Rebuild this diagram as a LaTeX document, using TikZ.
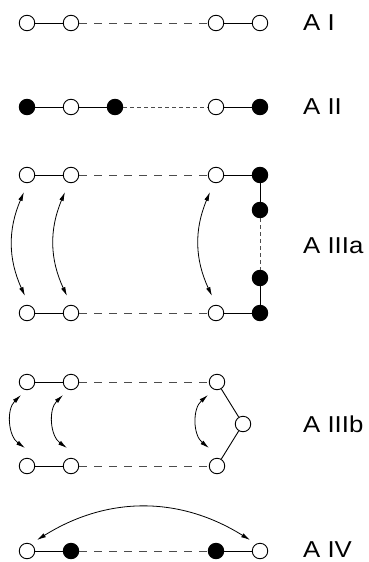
\documentclass[tikz,border=0pt]{standalone}
\usepackage{fontspec}
\setmainfont{Liberation Sans}
\newfontfamily\labfont[FakeStretch=1.12]{Liberation Sans}
\usetikzlibrary{arrows.meta}
\begin{document}
\begin{tikzpicture}[x=1pt,y=-1pt,
  vtx/.style={circle,draw,line width=0.9pt,inner sep=0pt,minimum size=15.5pt},
  opn/.style={vtx,fill=white},
  full/.style={vtx,fill=black},
  sol/.style={line width=0.9pt},
  dsh/.style={line width=0.9pt,draw=black!70,dash pattern=on 8pt off 7pt},
  dot/.style={line width=0.9pt,draw=black!70,dash pattern=on 3.5pt off 3.5pt},
  dbl/.style={line width=0.8pt,{Latex[length=9pt,width=4.5pt]}-{Latex[length=9pt,width=4.5pt]}},
  lab/.style={anchor=west,inner sep=0pt,font=\labfont\fontsize{23}{26}\selectfont}]
\useasboundingbox (0,0) rectangle (368,562);
% A I
\node[opn] (a1) at (27,23) {};
\node[opn] (a2) at (71,23) {};
\node[opn] (a3) at (216,23) {};
\node[opn] (a4) at (260,23) {};
\draw[sol] (a1) -- (a2);
\draw[dsh] (a2) -- (a3);
\draw[sol] (a3) -- (a4);
\node[lab] (lA) at (303,23) {A I};
% A II
\node[full] (b1) at (27,107) {};
\node[opn] (b2) at (71,107) {};
\node[full] (b3) at (115,107) {};
\node[opn] (b4) at (216,107) {};
\node[full] (b5) at (260,107) {};
\draw[sol] (b1) -- (b2);
\draw[sol] (b2) -- (b3);
\draw[dot] (b3) -- (b4);
\draw[sol] (b4) -- (b5);
\node[lab] (lB) at (303,107) {A II};
% A IIIa
\node[opn] (c1) at (27,175) {};
\node[opn] (c2) at (71,175) {};
\node[opn] (c3) at (216,175) {};
\node[full] (c4) at (260,175) {};
\node[full] (c5) at (260,210) {};
\node[full] (c6) at (260,278) {};
\node[full] (c7) at (260,313) {};
\node[opn] (d1) at (27,313) {};
\node[opn] (d2) at (71,313) {};
\node[opn] (d3) at (216,313) {};
\draw[sol] (c1) -- (c2);
\draw[dsh] (c2) -- (c3);
\draw[sol] (c3) -- (c4);
\draw[sol] (c4) -- (c5);
\draw[dot] (c5) -- (c6);
\draw[sol] (c6) -- (c7);
\draw[sol] (d1) -- (d2);
\draw[dsh] (d2) -- (d3);
\draw[sol] (d3) -- (c7);
\coordinate (p1t) at (24,192); \coordinate (p1b) at (25,296);
\coordinate (p2t) at (65,192); \coordinate (p2b) at (67,296);
\coordinate (p3t) at (210,192); \coordinate (p3b) at (212,296);
\draw[dbl] (p1t) to[bend right=24] (p1b);
\draw[dbl] (p2t) to[bend right=24] (p2b);
\draw[dbl] (p3t) to[bend right=24] (p3b);
\node[lab] (lC) at (303,246) {A IIIa};
% A IIIb
\node[opn] (e1) at (27,382) {};
\node[opn] (e2) at (71,382) {};
\node[opn] (e3) at (217,382) {};
\node[opn] (e4) at (243,424) {};
\node[opn] (f1) at (27,466) {};
\node[opn] (f2) at (71,466) {};
\node[opn] (f3) at (217,466) {};
\draw[sol] (e1) -- (e2);
\draw[dsh] (e2) -- (e3);
\draw[sol] (e3) -- (e4);
\draw[sol] (e4) -- (f3);
\draw[sol] (f1) -- (f2);
\draw[dsh] (f2) -- (f3);
\coordinate (q1t) at (21,395); \coordinate (q1b) at (25,448);
\coordinate (q2t) at (63,395); \coordinate (q2b) at (67,448);
\coordinate (q3t) at (208,395); \coordinate (q3b) at (209,448);
\draw[dbl] (q1t) to[bend right=50] (q1b);
\draw[dbl] (q2t) to[bend right=50] (q2b);
\draw[dbl] (q3t) to[bend right=50] (q3b);
\node[lab] (lD) at (303,424) {A IIIb};
% A IV
\node[opn] (g1) at (27,551) {};
\node[full] (g2) at (71,551) {};
\node[full] (g3) at (216,551) {};
\node[opn] (g4) at (260,551) {};
\draw[sol] (g1) -- (g2);
\draw[dsh] (g2) -- (g3);
\draw[sol] (g3) -- (g4);
\coordinate (r1) at (37,540); \coordinate (r2) at (250,540);
\draw[dbl] (r1) to[bend left=32] (r2);
\node[lab] (lE) at (303,550) {A IV};
\end{tikzpicture}
\end{document}
